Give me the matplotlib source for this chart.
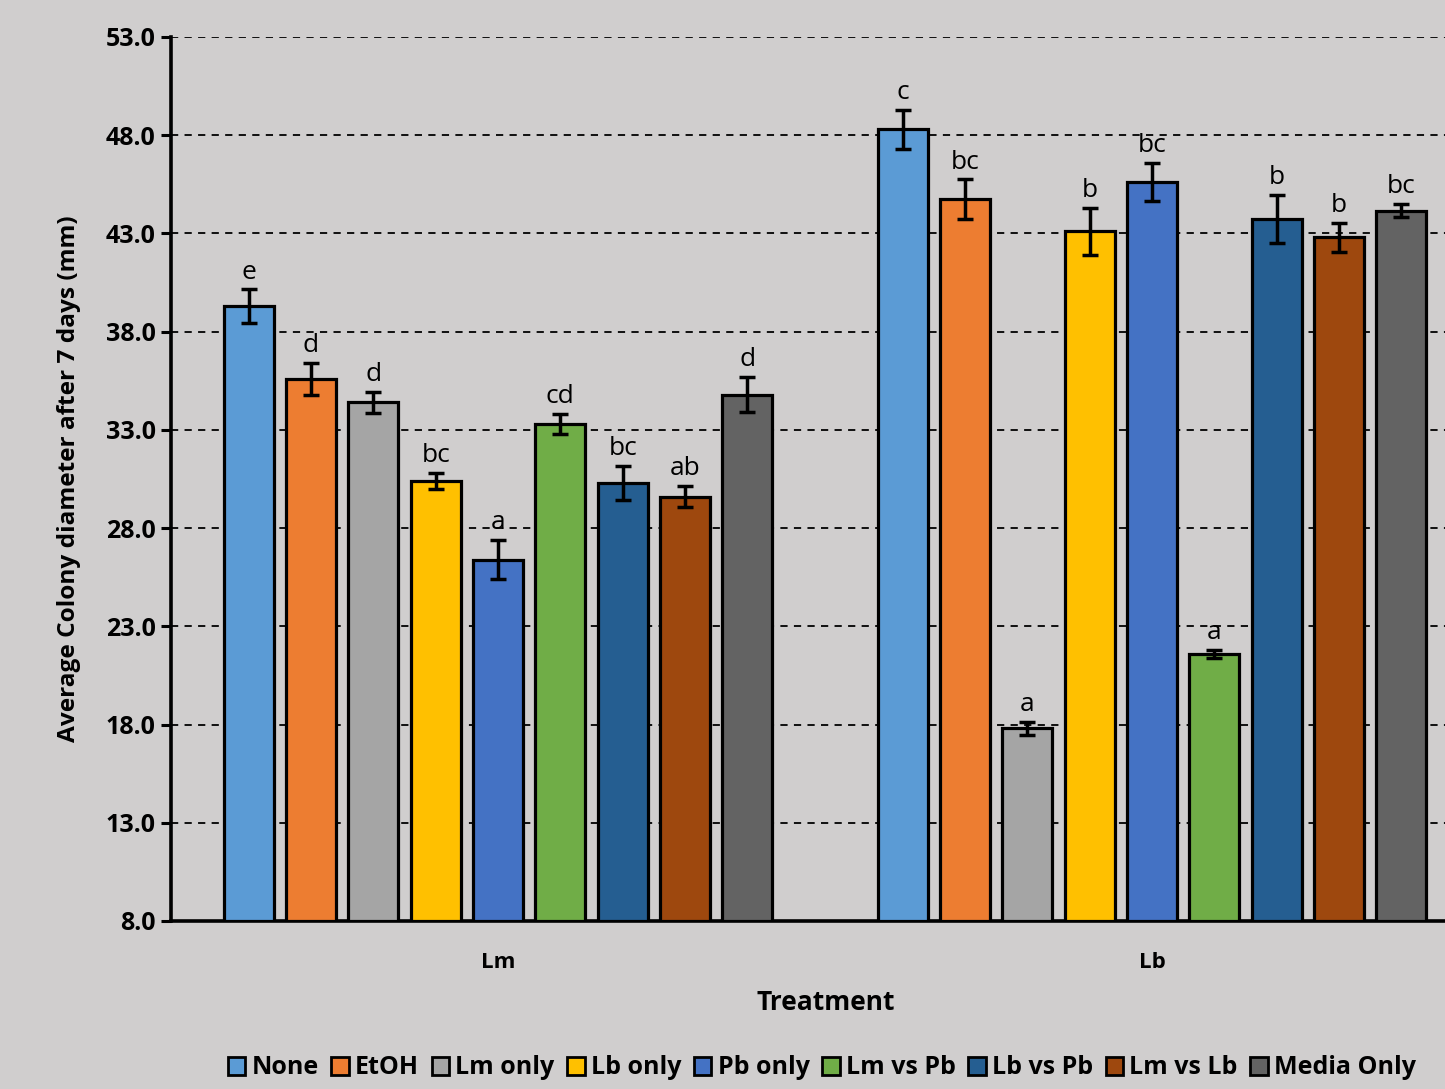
import numpy as np
import matplotlib
matplotlib.use("Agg")
import matplotlib.pyplot as plt
from matplotlib.patches import Patch

plt.rcParams['font.family'] = ['Open Sans', 'DejaVu Sans']

# data
groups = ["Lm", "Lb"]
treatments = ["None", "EtOH", "Lm only", "Lb only", "Pb only",
              "Lm vs Pb", "Lb vs Pb", "Lm vs Lb", "Media Only"]
colors = ["#5B9BD5", "#ED7D31", "#A5A5A5", "#FFC000", "#4472C4",
          "#70AD47", "#255E91", "#9E480E", "#636363"]

lm_mean = [39.3, 35.6, 34.4, 30.4, 26.4, 33.3, 30.3, 29.6, 34.8]
lm_err = [0.85, 0.8, 0.55, 0.4, 1.0, 0.5, 0.85, 0.55, 0.9]
lm_letters = ["e", "d", "d", "bc", "a", "cd", "bc", "ab", "d"]

lb_mean = [48.3, 44.75, 17.8, 43.1, 45.6, 21.6, 43.75, 42.8, 44.15]
lb_err = [1.0, 1.0, 0.35, 1.2, 0.97, 0.2, 1.22, 0.74, 0.33]
lb_letters = ["c", "bc", "a", "b", "bc", "a", "b", "b", "bc"]

means = [lm_mean, lb_mean]
errs = [lm_err, lb_err]
letters = [lm_letters, lb_letters]

fig = plt.figure(figsize=(14.45, 10.89), dpi=100)
fig.patch.set_facecolor("#D0CECE")
ax = fig.add_axes([171/1445, 1-921/1089, 1-171/1445, (921-37)/1089])
ax.set_facecolor("#D0CECE")

step = 0.0953
width = 0.0765
x0 = np.arange(len(groups))
for i, t in enumerate(treatments):
    xs = x0 + (i - 4) * step
    ys = [means[g][i] for g in range(len(groups))]
    es = [errs[g][i] for g in range(len(groups))]
    ax.bar(xs, np.array(ys) - 8, bottom=8, width=width, color=colors[i],
           edgecolor="black", linewidth=2.3, zorder=3)
    ax.errorbar(xs, ys, yerr=es, fmt="none", ecolor="black", elinewidth=2.5,
                capsize=5.5, capthick=2.5, zorder=4)
    for g in range(len(groups)):
        ax.text(xs[g], ys[g] + es[g] + 0.25, letters[g][i], ha="center",
                va="bottom", fontsize=19, zorder=5)

ax.set_ylim(8, 53)
ax.set_xlim(-0.5, (1445 - 498) / 654)
ax.set_yticks(np.arange(8, 54, 5))
ax.set_yticklabels([f"{v:.1f}" for v in np.arange(8, 54, 5)],
                   fontsize=18, fontweight="bold")
ax.yaxis.grid(True, linestyle=(0, (4, 3.5)), color="black", linewidth=1.3, zorder=0)
ax.set_axisbelow(True)
ax.tick_params(axis="y", length=7, width=2.2, pad=4)
ax.set_xticks(x0)
ax.set_xticklabels(groups, fontsize=16, fontweight="bold")
ax.tick_params(axis="x", length=0, pad=22)
for s in ["top", "right"]:
    ax.spines[s].set_visible(False)
for s in ["left", "bottom"]:
    ax.spines[s].set_linewidth(2.6)

ax.set_ylabel("Average Colony diameter after 7 days (mm)", fontsize=17.6,
              fontweight="bold", labelpad=18)
fig.text(826 / 1445, 1 - 1003/1089, "Treatment",
         ha="center", va="center", fontsize=19, fontweight="bold")

handles = [Patch(facecolor=c, edgecolor="black", linewidth=2) for c in colors]
fig.legend(handles, treatments, loc="center", bbox_to_anchor=(822/1445, 1 - 1068/1089),
           ncol=9, frameon=False, handlelength=0.7, handleheight=0.7,
           handletextpad=0.25, columnspacing=0.5, prop={"weight": "bold", "size": 18})

fig.savefig("out.png", dpi=100, facecolor=fig.get_facecolor())
